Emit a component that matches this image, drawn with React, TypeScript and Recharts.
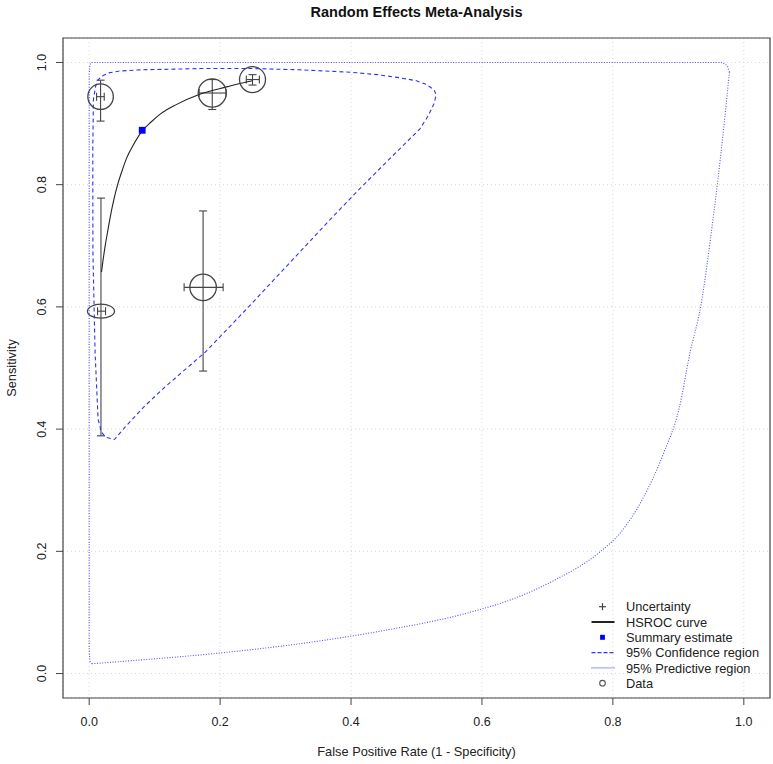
import React from 'react';
import {
  ScatterChart,
  Scatter,
  XAxis,
  YAxis,
  CartesianGrid,
  ErrorBar,
  ReferenceArea,
  Label,
} from 'recharts';

const FONT = '"Liberation Sans", Arial, Helvetica, sans-serif';

// axis ticks
const axisTicks = [0, 0.2, 0.4, 0.6, 0.8, 1.0];
const axisTickLabels = ['0.0', '0.2', '0.4', '0.6', '0.8', '1.0'];

// study estimates (fpr = 1 - specificity)
const studyFpr = [0.0174, 0.188, 0.2495, 0.018, 0.174];
const studyFprLo = [0.0113, 0.168, 0.24, 0.0128, 0.145];
const studyFprHi = [0.023, 0.209, 0.26, 0.025, 0.2046];
const studySens = [0.944, 0.95, 0.972, 0.593, 0.632];
const studySensLo = [0.904, 0.923, 0.963, 0.389, 0.495];
const studySensHi = [0.971, 0.972, 0.98, 0.778, 0.757];
// relative study weights -> ellipse half axes
const studyWeightFpr = [0.98, 1.08, 1.0, 1.04, 1.02];
const studyWeightSens = [0.98, 1.08, 1.0, 0.54, 1.02];

// summary point
const summaryFpr = [0.081];
const summarySens = [0.889];

// HSROC curve
const hsrocFpr = [0.0188, 0.021, 0.024, 0.028, 0.032, 0.038, 0.044, 0.05, 0.057, 0.068, 0.081, 0.095, 0.108, 0.133, 0.169, 0.21, 0.24, 0.2495];
const hsrocSens = [0.657, 0.675, 0.697, 0.722, 0.746, 0.777, 0.802, 0.822, 0.843, 0.866, 0.888, 0.903, 0.915, 0.931, 0.948, 0.96, 0.968, 0.97];

// 95% confidence region
const confFpr = [0.02, 0.03, 0.047, 0.08, 0.13, 0.17, 0.25, 0.32, 0.4, 0.44, 0.474, 0.5, 0.515, 0.527, 0.53, 0.527, 0.518, 0.505, 0.454, 0.413, 0.369, 0.2435, 0.1774, 0.118, 0.085, 0.052, 0.0386, 0.0255, 0.0188, 0.0136, 0.009, 0.0057, 0.0055, 0.0065, 0.01, 0.014, 0.02];
const confSens = [0.978, 0.983, 0.986, 0.988, 0.989, 0.99, 0.99, 0.988, 0.984, 0.98, 0.975, 0.97, 0.964, 0.955, 0.947, 0.933, 0.913, 0.891, 0.837, 0.793, 0.744, 0.6, 0.526, 0.471, 0.438, 0.4, 0.383, 0.3865, 0.395, 0.416, 0.526, 0.69, 0.86, 0.94, 0.962, 0.972, 0.978];

// 95% predictive region: lower-right arc (rising fpr) and the remaining frame
const predArcFpr = [0.004, 0.01, 0.052, 0.184, 0.316, 0.448, 0.581, 0.647, 0.713, 0.779, 0.812, 0.845, 0.878, 0.901, 0.918, 0.934, 0.953, 0.96, 0.97, 0.978];
const predArcSens = [0.016, 0.0165, 0.02, 0.032, 0.048, 0.07, 0.1, 0.122, 0.154, 0.198, 0.231, 0.285, 0.362, 0.433, 0.526, 0.6, 0.744, 0.804, 0.9, 0.984];
const predFrameFpr = [0.978, 0.976, 0.972, 0.965, 0.6, 0.3, 0.004, 0.001, 0.0, 0.0, 0.0, 0.001, 0.004];
const predFrameSens = [0.984, 0.992, 0.997, 1.0, 1.0, 1.0, 1.0, 0.997, 0.98, 0.5, 0.04, 0.02, 0.016];

const legendLabels = ['Uncertainty', 'HSROC curve', 'Summary estimate', '95% Confidence region', '95% Predictive region', 'Data'];

const studies = studyFpr.map((x, i) => ({
  x,
  y: studySens[i],
  errX: [x - studyFprLo[i], studyFprHi[i] - x],
  errY: [studySens[i] - studySensLo[i], studySensHi[i] - studySens[i]],
  wx: studyWeightFpr[i],
  wy: studyWeightSens[i],
}));
const summary = summaryFpr.map((x, i) => ({ x, y: summarySens[i] }));
const hsroc = hsrocFpr.map((x, i) => ({ x, y: hsrocSens[i] }));
const conf = confFpr.map((x, i) => ({ x, y: confSens[i] }));
const predArc = predArcFpr.map((x, i) => ({ x, y: predArcSens[i] }));
const predFrame = predFrameFpr.map((x, i) => ({ x, y: predFrameSens[i] }));

const fmt = (v: number) => {
  const i = axisTicks.findIndex((t) => Math.abs(t - v) < 1e-9);
  return i >= 0 ? axisTickLabels[i] : String(v);
};

const NoDot = () => <g />;

const StudyShape = (props: any) => {
  const { cx, cy, payload } = props;
  if (cx == null || cy == null) return <g />;
  return (
    <ellipse cx={cx} cy={cy} rx={payload.wx * 13} ry={payload.wy * 13}
      fill="none" stroke="#444" strokeWidth={1.3} />
  );
};

const SummaryShape = (props: any) => {
  const { cx, cy } = props;
  if (cx == null || cy == null) return <g />;
  return <rect x={cx - 3.4} y={cy - 3.4} width={6.8} height={6.8} fill="#0000ff" />;
};

const YTick = (props: any) => {
  const { x, y, payload } = props;
  const bx = x - 8;
  return (
    <text x={bx} y={y} transform={`rotate(-90, ${bx}, ${y})`} textAnchor="middle"
      fontSize={12.5} fill="#222" fontFamily={FONT}>
      {fmt(payload.value)}
    </text>
  );
};

const LegendBox = () => {
  const rowY = (i: number) => 8.7 + i * 15.3;
  const sx = 17.5;
  return (
    <svg width={186} height={96} style={{ position: 'absolute', left: 585, top: 598 }}>
      {/* Uncertainty */}
      <line x1={sx - 3.5} x2={sx + 3.5} y1={rowY(0)} y2={rowY(0)} stroke="#444" strokeWidth={1.2} />
      <line x1={sx} x2={sx} y1={rowY(0) - 3.5} y2={rowY(0) + 3.5} stroke="#444" strokeWidth={1.2} />
      {/* HSROC */}
      <line x1={6.5} x2={29.5} y1={rowY(1)} y2={rowY(1)} stroke="#222" strokeWidth={2} />
      {/* Summary */}
      <rect x={sx - 2.4} y={rowY(2) - 2.5} width={4.8} height={5} fill="#0000ff" />
      {/* Confidence */}
      <line x1={6.5} x2={29.5} y1={rowY(3)} y2={rowY(3)} stroke="#3333ff" strokeDasharray="4 2" strokeWidth={1.1} />
      {/* Predictive */}
      <line x1={6.5} x2={29.5} y1={rowY(4)} y2={rowY(4)} stroke="#5555ff" strokeDasharray="1 1" strokeWidth={1.1} />
      {/* Data */}
      <circle cx={sx} cy={rowY(5)} r={2.8} fill="none" stroke="#555" strokeWidth={1.1} />
      {legendLabels.map((t, i) => (
        <text key={t} x={41} y={rowY(i) + 4.6} fontSize={12.8} fill="#222" fontFamily={FONT}>{t}</text>
      ))}
    </svg>
  );
};

export default function App() {
  return (
    <div style={{ position: 'absolute', left: 0, top: 0, width: 773, height: 764, background: '#fff', fontFamily: FONT }}>
      <ScatterChart width={773} height={764} margin={{ top: 38, right: 3, bottom: 0, left: 0 }}>
        <CartesianGrid stroke="#d6d6d6" strokeDasharray="1 3" />
        <XAxis
          type="number"
          dataKey="x"
          domain={[-0.04, 1.04]}
          ticks={axisTicks}
          tickFormatter={fmt}
          allowDataOverflow
          axisLine={false}
          tickLine={{ stroke: '#444' }}
          tickSize={7}
          tickMargin={12}
          height={66}
          tick={{ fontSize: 12.5, fill: '#222', fontFamily: FONT }}
        >
          <Label
            content={() => (
              <text x={416.5} y={756.3} textAnchor="middle" fontSize={12.8} fill="#222" fontFamily={FONT}>
                False Positive Rate (1 - Specificity)
              </text>
            )}
          />
        </XAxis>
        <YAxis
          type="number"
          dataKey="y"
          domain={[-0.04, 1.04]}
          ticks={axisTicks}
          allowDataOverflow
          axisLine={false}
          tickLine={{ stroke: '#444' }}
          tickSize={7}
          width={63}
          tick={<YTick />}
        >
          <Label
            content={() => (
              <text x={15.5} y={368} transform="rotate(-90, 15.5, 368)" textAnchor="middle"
                fontSize={12.8} fill="#222" fontFamily={FONT}>
                Sensitivity
              </text>
            )}
          />
        </YAxis>
        <ReferenceArea x1={-0.04} x2={1.04} y1={-0.04} y2={1.04} fill="none" stroke="#444" strokeWidth={1.2} ifOverflow="visible" />
        <Scatter data={predArc} shape={NoDot} lineJointType="monotoneX" line={{ stroke: '#5050ff', strokeWidth: 1.1, strokeDasharray: '1 1.6' }} isAnimationActive={false} />
        <Scatter data={predFrame} shape={NoDot} line={{ stroke: '#5050ff', strokeWidth: 1.1, strokeDasharray: '1 1.6' }} isAnimationActive={false} />
        <Scatter data={conf} shape={NoDot} line={{ stroke: '#3030ff', strokeWidth: 1.1, strokeDasharray: '4 3' }} isAnimationActive={false} />
        <Scatter data={hsroc} shape={NoDot} lineJointType="monotoneX" line={{ stroke: '#222', strokeWidth: 1.1 }} isAnimationActive={false} />
        <Scatter data={studies} shape={StudyShape} isAnimationActive={false}>
          <ErrorBar dataKey="errY" direction="y" width={4} stroke="#444" strokeWidth={1.1} isAnimationActive={false} />
          <ErrorBar dataKey="errX" direction="x" width={4} stroke="#444" strokeWidth={1.1} isAnimationActive={false} />
        </Scatter>
        <Scatter data={summary} shape={SummaryShape} isAnimationActive={false} />
      </ScatterChart>
      <div style={{ position: 'absolute', left: 63, width: 707, top: 4, lineHeight: '16px', textAlign: 'center', fontWeight: 'bold', fontSize: 14.5, color: '#111' }}>
        Random Effects Meta-Analysis
      </div>
      <LegendBox />
    </div>
  );
}
